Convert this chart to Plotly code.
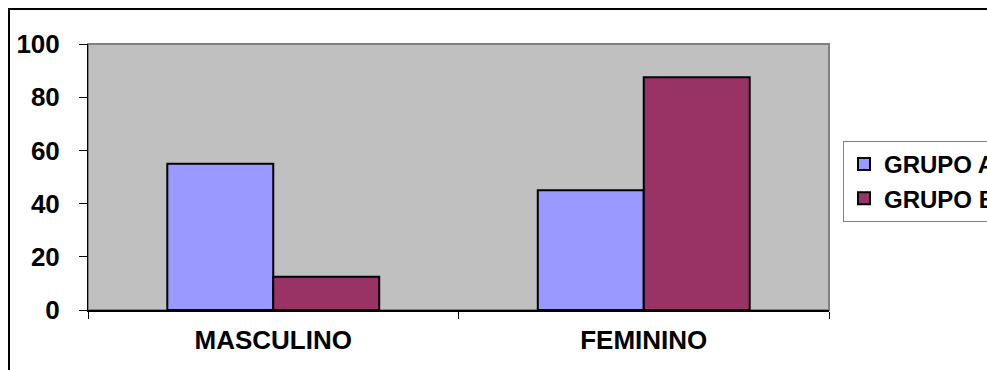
import plotly.graph_objects as go

categories = ["MASCULINO", "FEMININO"]
grupo_a = [55, 45]
grupo_b = [12.5, 87.5]
y_ticks = [0, 20, 40, 60, 80, 100]

W, H = 987, 370
L, R, T, B = 88, W - 829, 44, H - 310
pw, ph = W - L - R, H - T - B

fig = go.Figure()
fig.add_trace(go.Bar(x=categories, y=grupo_a, name="GRUPO A",
                     marker=dict(color="#9999FF", line=dict(color="black", width=2))))
fig.add_trace(go.Bar(x=categories, y=grupo_b, name="GRUPO B",
                     marker=dict(color="#993366", line=dict(color="black", width=2))))

# plot-area border (gray) and outer chart frame (black)
fig.add_shape(type="rect", xref="paper", yref="paper", x0=0, x1=1, y0=0, y1=1,
              line=dict(color="#808080", width=2), layer="below")
fig.add_shape(type="rect", xref="paper", yref="paper",
              x0=(9 - L) / pw, x1=2.0, y0=-2.0, y1=(H - B - 9) / ph,
              line=dict(color="black", width=2), fillcolor="rgba(0,0,0,0)")

fig.update_layout(
    width=W, height=H,
    margin=dict(l=L, r=R, t=T, b=B, autoexpand=False),
    paper_bgcolor="white", plot_bgcolor="#C0C0C0",
    barmode="group", bargap=0.428, bargroupgap=0,
    font=dict(family="Liberation Sans, Arial, sans-serif", color="black"),
    showlegend=True,
    legend=dict(x=(843 - L) / pw, y=(H - B - 141) / ph, xanchor="left", yanchor="top",
                bgcolor="white", bordercolor="#808080", borderwidth=1,
                font=dict(size=24, family="Liberation Sans, Arial, sans-serif", weight="bold"),
                itemwidth=30, tracegroupgap=0),
)
fig.update_xaxes(showgrid=False, showline=True, linecolor="black", linewidth=2,
                 ticks="outside", tickson="boundaries", ticklen=7, tickcolor="black", tickwidth=1,
                 tickfont=dict(size=26, weight="bold"), ticklabelstandoff=6)
fig.update_yaxes(range=[0, 100], tickvals=y_ticks, showgrid=False, zeroline=False,
                 showline=True, linecolor="black", linewidth=1,
                 ticks="outside", ticklen=8, tickcolor="black", tickwidth=1,
                 tickfont=dict(size=26, weight="bold"), ticklabelstandoff=14)

fig.write_html("out.html")
